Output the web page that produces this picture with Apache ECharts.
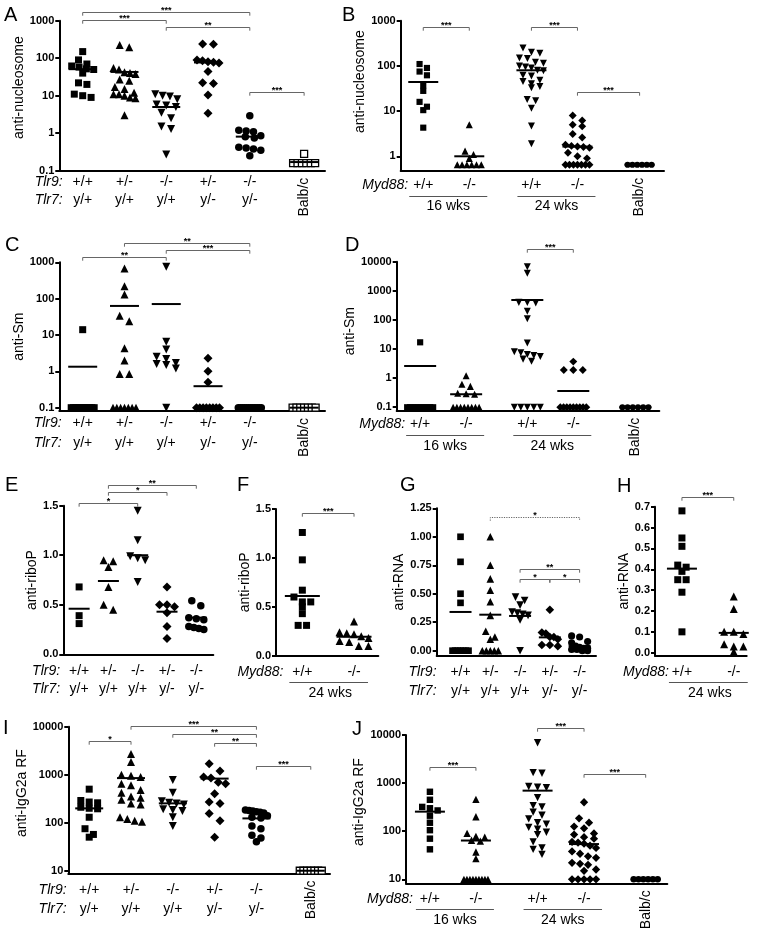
<!DOCTYPE html>
<html><head><meta charset="utf-8">
<script src="https://cdn.jsdelivr.net/npm/echarts@6/dist/echarts.min.js"></script>
<style>html,body{margin:0;padding:0;background:#fff}#c{width:762px;height:935px}</style>
</head><body><div id="c"></div>
<script>
const FONT = '"Liberation Sans", Arial, Helvetica, sans-serif';
const TLR9 = ['+/+','+/-','-/-','+/-','-/-'];
const TLR7 = ['y/+','y/+','y/+','y/-','y/-'];
const MYD88 = ['+/+','-/-','+/+','-/-'];
const MYD88_2 = ['+/+','-/-'];
const AGES = ['16 wks','24 wks'];
const AGE24 = ['24 wks'];
const BALB = 'Balb/c';

// ---- A: anti-nucleosome, Tlr genotypes ----
const A_vals = [
  [150, 90, 70, 62, 58, 52, 50, 40, 22, 20, 11, 10, 9],
  [225, 195, 55, 50, 42, 40, 38, 27, 25, 17, 15, 12, 11, 11, 10, 9, 8.5, 3],
  [11, 10, 9.5, 8, 5.8, 5.5, 5, 3.5, 2.5, 1.5, 1.3, 0.27],
  [240, 235, 90, 85, 80, 78, 75, 44, 22, 21, 10.4, 3.4],
  [2.9, 1.2, 1.15, 1.1, 0.85, 0.8, 0.75, 0.42, 0.4, 0.38, 0.35, 0.25],
  [0.28, 0.16, 0.16, 0.16, 0.16, 0.16, 0.16]
];
const A_med = [51, 43, 5, 77, 0.81, 0.17];
const A_sig = [[0,4,1700,'***'],[0,2,1060,'***'],[2,4,690,'**'],[4,5,12.8,'***']];
const A_ticks = [0.1, 1, 10, 100, 1000];

// ---- B: anti-nucleosome, Myd88 ----
const B_vals = [
  [110, 90, 75, 62, 37, 28, 16, 12.5, 10.5, 4.3],
  [5, 1.3, 1.1, 0.9, 0.65, 0.65, 0.65, 0.65, 0.65, 0.65],
  [250, 200, 190, 150, 145, 120, 115, 100, 95, 90, 80, 78, 62, 60, 48, 45, 40, 35, 33, 18, 17, 11.5, 4.7, 1.9],
  [8, 6.2, 5, 4.6, 3.1, 2.6, 1.8, 1.7, 1.65, 1.6, 1.55, 1.2, 1.0, 0.9, 0.65, 0.65, 0.65, 0.65, 0.65, 0.65, 0.65],
  [0.65, 0.65, 0.65, 0.65, 0.65, 0.65]
];
const B_med = [44, 1.0, 80, 1.64, 0.65];
const B_sig = [[0,1,735,'***'],[2,3,735,'***'],[3,4,26.4,'***']];
const B_ticks = [1, 10, 100, 1000];

// ---- C: anti-Sm, Tlr ----
const C_vals = [
  [14, 0.1, 0.1, 0.1, 0.1, 0.1, 0.1, 0.1, 0.1, 0.1, 0.1, 0.1],
  [680, 220, 130, 34, 24, 4.3, 2.0, 0.85, 0.85, 0.1, 0.1, 0.1, 0.1, 0.1, 0.1, 0.1],
  [760, 6.5, 4, 2.5, 2.2, 1.7, 1.6, 1.5, 1.2, 0.1],
  [2.3, 1.0, 0.5, 0.1, 0.1, 0.1, 0.1, 0.1, 0.1, 0.1, 0.1],
  [0.1, 0.1, 0.1, 0.1, 0.1, 0.1, 0.1, 0.1, 0.1, 0.1, 0.1, 0.1],
  [0.1, 0.1, 0.1, 0.1, 0.1, 0.1, 0.1]
];
const C_med = [1.34, 63, 71, 0.39, 0.1, 0.1];
const C_sig = [[1,4,3470,'**'],[2,4,2185,'***'],[0,2,1373,'**']];
const C_ticks = [0.1, 1, 10, 100, 1000];

// ---- D: anti-Sm, Myd88 ----
const D_vals = [
  [17, 0.1, 0.1, 0.1, 0.1, 0.1, 0.1, 0.1, 0.1, 0.1, 0.1],
  [1.2, 0.62, 0.52, 0.3, 0.29, 0.28, 0.1, 0.1, 0.1, 0.1, 0.1, 0.1, 0.1, 0.1],
  [6700, 4000, 400, 395, 385, 200, 110, 16, 8, 7.5, 6.5, 6, 5.5, 4.5, 3.8, 0.1, 0.1, 0.1, 0.1, 0.1],
  [3.7, 1.9, 1.9, 1.9, 0.1, 0.1, 0.1, 0.1, 0.1, 0.1, 0.1, 0.1, 0.1],
  [0.1, 0.1, 0.1, 0.1, 0.1, 0.1]
];
const D_med = [2.6, 0.28, 483, 0.36, 0.1];
const D_sig = [[2,3,26700,'***']];
const D_ticks = [0.1, 1, 10, 100, 1000, 10000];

// ---- E: anti-riboP, Tlr ----
const E_vals = [
  [0.68, 0.39, 0.31],
  [0.95, 0.94, 0.88, 0.68, 0.5, 0.45],
  [1.45, 1.15, 0.99, 0.97, 0.95, 0.73],
  [0.68, 0.5, 0.5, 0.48, 0.42, 0.28, 0.16],
  [0.54, 0.49, 0.37, 0.36, 0.35, 0.28, 0.27, 0.26, 0.25]
];
const E_med = [0.46, 0.74, 1.0, 0.43, 0.37];
const E_sig = [[1,4,1.709,'**'],[1,3,1.634,'*'],[0,2,1.524,'*']];
const E_ticks = [0, 0.5, 1, 1.5];

// ---- F: anti-riboP, Myd88 ----
const F_vals = [
  [1.26, 0.98, 0.67, 0.6, 0.55, 0.55, 0.5, 0.43, 0.31, 0.31],
  [0.35, 0.24, 0.23, 0.22, 0.2, 0.18, 0.15, 0.14, 0.1, 0.1]
];
const F_med = [0.61, 0.195];
const F_sig = [[0,1,1.46,'***']];
const F_ticks = [0, 0.5, 1, 1.5];

// ---- G: anti-RNA, Tlr ----
const G_vals = [
  [1.0, 0.78, 0.5, 0.42, 0, 0, 0, 0, 0, 0, 0],
  [1.0, 0.75, 0.63, 0.53, 0.43, 0.31, 0.17, 0.12, 0.1, 0, 0, 0, 0, 0],
  [0.47, 0.44, 0.4, 0.34, 0.33, 0.32, 0.31, 0.27, 0],
  [0.36, 0.16, 0.15, 0.12, 0.12, 0.1, 0.05, 0.04, 0.05],
  [0.13, 0.12, 0.08, 0.07, 0.04, 0.03, 0.02, 0.02, 0.01, 0.01, 0, 0]
];
const G_med = [0.34, 0.316, 0.305, 0.117, 0.04];
const G_sig = [[1,4,1.176,'*','dot'],[2,4,0.715,'**'],[2,3,0.627,'*'],[3,4,0.627,'*']];
const G_ticks = [0, 0.25, 0.5, 0.75, 1, 1.25];

// ---- H: anti-RNA, Myd88 ----
const H_vals = [
  [0.68, 0.55, 0.51, 0.42, 0.41, 0.39, 0.35, 0.35, 0.29, 0.1],
  [0.27, 0.21, 0.1, 0.1, 0.09, 0.04, 0.03, 0.03, 0.005]
];
const H_med = [0.403, 0.095];
const H_sig = [[0,1,0.745,'***']];
const H_ticks = [0, 0.1, 0.2, 0.3, 0.4, 0.5, 0.6, 0.7];

// ---- I: anti-IgG2a RF, Tlr ----
const I_vals = [
  [500, 290, 270, 260, 210, 200, 195, 130, 75, 57, 50],
  [2700, 1850, 1000, 950, 900, 650, 600, 480, 420, 350, 330, 300, 250, 240, 130, 120, 110, 105],
  [780, 420, 280, 260, 250, 240, 190, 185, 175, 130, 85],
  [1700, 1200, 900, 850, 700, 650, 400, 270, 250, 155, 110, 50],
  [185, 180, 175, 170, 165, 160, 140, 130, 125, 85, 75, 55, 48, 40],
  [10, 10, 10, 10, 10, 10, 10]
];
const I_med = [199, 850, 253, 830, 123, 10];
const I_sig = [[0,1,5040,'*'],[1,4,10350,'***'],[2,4,7050,'**'],[3,4,4640,'**'],[4,5,1520,'***']];
const I_ticks = [10, 100, 1000, 10000];

// ---- J: anti-IgG2a RF, Myd88 ----
const J_vals = [
  [660, 450, 320, 300, 270, 210, 150, 105, 70, 42],
  [460, 200, 90, 78, 75, 65, 62, 37, 27, 10, 10, 10, 10, 10, 10, 10, 10, 10],
  [6900, 1650, 1600, 850, 820, 800, 500, 340, 320, 250, 215, 180, 150, 140, 120, 110, 95, 85, 60, 45, 42, 33],
  [400, 185, 150, 125, 115, 90, 85, 75, 70, 60, 58, 55, 50, 45, 38, 34, 30, 28, 22, 21, 20, 16, 15, 10, 10, 10, 10, 10],
  [10, 10, 10, 10, 10, 10]
];
const J_med = [255, 64, 697, 54, 10];
const J_sig = [[0,1,2130,'***'],[2,3,13800,'***'],[3,4,1545,'***']];
const J_ticks = [10, 100, 1000, 10000];

// ---------- layout (positions / styles) ----------
const TLR_SYMS = ['sq','tri','inv','dia','cir','osq'];
const MYD_SYMS = ['sq','tri','inv','dia','dot'];
const panels = [
  {id:'A', vals:A_vals, med:A_med, sig:A_sig, ticks:A_ticks, title:'anti-nucleosome', tshift:8, kind:'tlr', syms:TLR_SYMS, balb:true,
   grid:[59.3,20.7,265.7,150], xr:[-0.56,5.8], pos:[0,1,2,3,4,5.3], log:true, yr:[0.1,1000], gap:24, letter:[4,15], dy:[11,29.3], mx:-20, half:14, sc:1},
  {id:'B', vals:B_vals, med:B_med, sig:B_sig, ticks:B_ticks, title:'anti-nucleosome', tshift:14, kind:'myd', syms:MYD_SYMS, balb:true, geno:MYD88, ages:AGES,
   grid:[400.7,20.7,263.3,150], xr:[-0.49,5.23], pos:[0,1,2.35,3.35,4.7], log:true, yr:[0.48,1000], gap:26, letter:[342,15], dy:[14.3,25,35.3], mx:-15, ul:[-14,18], half:15, sc:0.88},
  {id:'C', vals:C_vals, med:C_med, sig:C_sig, ticks:C_ticks, title:'anti-Sm', kind:'tlr', syms:TLR_SYMS, balb:true,
   grid:[59.3,262.3,265.7,148.7], xr:[-0.56,5.8], pos:[0,1,2,3,4,5.3], log:true, yr:[0.081,1000], gap:24, letter:[5,245.5], dy:[12.3,31.7], mx:-21, half:14.5, sc:1},
  {id:'D', vals:D_vals, med:D_med, sig:D_sig, ticks:D_ticks, title:'anti-Sm', tshift:5, kind:'myd', syms:MYD_SYMS, balb:true, geno:MYD88, ages:AGES,
   grid:[396.7,261.7,262.6,149], xr:[-0.51,5.2], pos:[0,1,2.33,3.33,4.68], log:true, yr:[0.076,10000], gap:22, letter:[345,245], dy:[13.3,24.6,35.3], mx:-15, ul:[-14,18], half:16, sc:0.88},
  {id:'E', vals:E_vals, med:E_med, sig:E_sig, ticks:E_ticks, dec:1, title:'anti-riboP', kind:'tlr', syms:TLR_SYMS, balb:false,
   grid:[63.3,505.7,150,148.6], xr:[-0.54,4.58], pos:[0,1,2,3,4], log:false, yr:[0,1.5], gap:24.6, letter:[5,485], dy:[16.7,34.7], mx:-19, half:10.5, sc:1},
  {id:'F', vals:F_vals, med:F_med, sig:F_sig, ticks:F_ticks, dec:1, title:'anti-riboP', kind:'myd', syms:MYD_SYMS, balb:false, geno:MYD88_2, ages:AGE24,
   grid:[276,509,102.3,146.7], xr:[-0.51,1.47], pos:[0,1], log:false, yr:[0,1.5], gap:22, letter:[237,485], dy:[16,26.6,37.6], mx:-19, ul:[-13,14], half:17.5, sc:1},
  {id:'G', vals:G_vals, med:G_med, sig:G_sig, ticks:G_ticks, dec:2, title:'anti-RNA', kind:'tlr', syms:TLR_SYMS, balb:false,
   grid:[436.7,508.3,159.3,147.4], xr:[-0.8,4.55], pos:[0,1,2,3,4], log:false, yr:[-0.044,1.25], gap:23, letter:[400,485.5], dy:[16,35.3], mx:-24, half:11, sc:0.95},
  {id:'H', vals:H_vals, med:H_med, sig:H_sig, ticks:H_ticks, dec:1, title:'anti-RNA', kind:'myd', syms:MYD_SYMS, balb:false, geno:MYD88_2, ages:AGE24,
   grid:[655,506.7,91.7,149], xr:[-0.52,1.25], pos:[0,1], log:false, yr:[-0.0144,0.7], gap:20, letter:[617,486.5], dy:[16,26.6,37], mx:-13, ul:[-13,14], half:15, sc:1},
  {id:'I', vals:I_vals, med:I_med, sig:I_sig, ticks:I_ticks, title:'anti-IgG2a RF', tshift:7, kind:'tlr', syms:TLR_SYMS, balb:true,
   grid:[68.3,726.7,261.7,146.7], xr:[-0.5,5.76], pos:[0,1,2,3,4,5.3], log:true, yr:[8.8,10000], gap:33, letter:[3,728], dy:[16.7,36], mx:-22.6, half:14, sc:1},
  {id:'J', vals:J_vals, med:J_med, sig:J_sig, ticks:J_ticks, title:'anti-IgG2a RF', tshift:7, kind:'myd', syms:MYD_SYMS, balb:true, geno:MYD88, ages:AGES,
   grid:[406,735,261.3,148.3], xr:[-0.52,5.16], pos:[0,1,2.34,3.35,4.69], log:true, yr:[8.26,10000], gap:27, letter:[352,729.5], dy:[15.7,26,36.7], mx:-17, ul:[-14,18], half:15, sc:0.92}
];

const SHAPES = {
  sq:{symbol:'rect', size:7}, tri:{symbol:'triangle', size:8}, inv:{symbol:'triangle', size:8, rotate:180},
  dia:{symbol:'diamond', size:9}, cir:{symbol:'circle', size:7.5}, osq:{symbol:'rect', size:7, open:true}, dot:{symbol:'circle', size:7}
};

function txt(x, y, text, opts) {
  opts = opts || {};
  const font = (opts.italic ? 'italic ' : '') + (opts.bold ? 'bold ' : '') + (opts.size || 14) + 'px ' + FONT;
  const al = opts.align || 'center', va = opts.va || 'middle';
  return {type:'text', x:x, y:y, rotation:opts.rotation || 0,
    style:{text:text, fill:'#000', font:font, align:al, verticalAlign:va, textAlign:al, textVerticalAlign:va}};
}

const option = {animation:false, backgroundColor:'#fff', grid:[], xAxis:[], yAxis:[], series:[], graphic:[]};
const meta = [];

panels.forEach((p, gi) => {
  option.grid.push({left:p.grid[0], top:p.grid[1], width:p.grid[2], height:p.grid[3], containLabel:false});
  option.xAxis.push({type:'value', gridIndex:gi, min:p.xr[0], max:p.xr[1],
    axisLine:{show:true, onZero:false, lineStyle:{color:'#000', width:2}},
    axisTick:{show:false}, axisLabel:{show:false}, splitLine:{show:false}});
  const ts = p.tshift || 0;
  option.yAxis.push({type:p.log ? 'log' : 'value', logBase:10, gridIndex:gi, min:p.yr[0], max:p.yr[1],
    name:p.title, nameLocation:'middle', nameGap:p.gap, nameRotate:90,
    nameTextStyle:{fontFamily:FONT, fontSize:14, color:'#000', padding:[0, 0, 0, 2 * ts]},
    axisLine:{show:true, onZero:false, lineStyle:{color:'#000', width:2}},
    axisTick:{show:true, length:4, customValues:p.ticks, lineStyle:{color:'#000', width:2}},
    axisLabel:{show:true, customValues:p.ticks, margin:5, color:'#000', fontFamily:FONT, fontSize:11, fontWeight:'bold',
      formatter: (v) => p.log ? (v < 1 ? (+v).toFixed(1) : String(Math.round(v))) : (+v).toFixed(p.dec)},
    splitLine:{show:false}});

  // points
  p.vals.forEach((vals, k) => {
    const sh = SHAPES[p.syms[k]];
    const si = option.series.length;
    option.series.push({type:'scatter', name:p.id + k, xAxisIndex:gi, yAxisIndex:gi, silent:true, z:2,
      symbol:sh.symbol, symbolSize:sh.size * p.sc, symbolRotate:sh.rotate || 0,
      itemStyle: sh.open ? {color:'#fff', borderColor:'#000', borderWidth:1.3, opacity:1} : {color:'#000', opacity:1},
      data: vals.map(v => [p.pos[k], v])});
    meta.push({si:si, x:p.pos[k], vals:vals, size:sh.size * p.sc, maxHalf:p.half - 3});
  });

  // median / mean lines
  option.series.push({type:'custom', xAxisIndex:gi, yAxisIndex:gi, clip:false, silent:true, z:6,
    data: p.med.map((v, k) => [p.pos[k], v]),
    renderItem: (params, api) => {
      const c = api.coord([api.value(0), api.value(1)]);
      return {type:'line', shape:{x1:c[0] - p.half, y1:c[1], x2:c[0] + p.half, y2:c[1]}, style:{stroke:'#000', lineWidth:2}};
    }});

  // significance brackets
  option.series.push({type:'custom', xAxisIndex:gi, yAxisIndex:gi, clip:false, silent:true, z:6,
    data: p.sig.map(s => [p.pos[s[0]], s[2]]),
    renderItem: (params, api) => {
      const s = p.sig[params.dataIndex];
      const a = api.coord([p.pos[s[0]], s[2]]), b = api.coord([p.pos[s[1]], s[2]]);
      const y = Math.round(a[1]) + 0.5;
      return {type:'group', children:[
        {type:'polyline', shape:{points:[[a[0], y + 3.2], [a[0], y], [b[0], y], [b[0], y + 3.2]]},
         style:{stroke:'#666', lineWidth:1, fill:'none', lineDash: s[4] === 'dot' ? [1.2, 1.2] : null}},
        txt((a[0] + b[0]) / 2, y + 2.5, s[3], {size:9, bold:true, va:'bottom'})
      ]};
    }});

  // labels under the axis
  const specs = [];
  const c = p.pos;
  if (p.kind === 'tlr') {
    specs.push({t:'text', x:c[0], dx:p.mx, dy:p.dy[0], text:'Tlr9:', italic:true, align:'right'});
    specs.push({t:'text', x:c[0], dx:p.mx, dy:p.dy[1], text:'Tlr7:', italic:true, align:'right'});
    TLR9.forEach((g, i) => {
      specs.push({t:'text', x:c[i], dy:p.dy[0], text:g});
      specs.push({t:'text', x:c[i], dy:p.dy[1], text:TLR7[i]});
    });
  } else {
    specs.push({t:'text', x:c[0], dx:p.mx, dy:p.dy[0], text:'Myd88:', italic:true, align:'right'});
    p.geno.forEach((g, i) => specs.push({t:'text', x:c[i], dy:p.dy[0], text:g}));
    p.ages.forEach((a, k) => {
      specs.push({t:'line', x:c[2 * k], x2:c[2 * k + 1], dy:p.dy[1]});
      specs.push({t:'text', x:(c[2 * k] + c[2 * k + 1]) / 2, dx:2, dy:p.dy[2], text:a});
    });
  }
  if (p.balb) specs.push({t:'rot', x:c[c.length - 1], dy:7, text:BALB});
  option.series.push({type:'custom', xAxisIndex:gi, yAxisIndex:gi, clip:false, silent:true, z:6,
    data: specs.map(s => [s.x, p.yr[1]]),
    renderItem: (params, api) => {
      const s = specs[params.dataIndex];
      const cs = params.coordSys;
      const bottom = cs.y + cs.height;
      const px = api.coord([s.x, p.yr[1]])[0] + (s.dx || 0);
      if (s.t === 'line') {
        const px2 = api.coord([s.x2, p.yr[1]])[0];
        const yy = Math.round(bottom + s.dy) + 0.5;
        return {type:'line', shape:{x1:px + p.ul[0], y1:yy, x2:px2 + p.ul[1], y2:yy}, style:{stroke:'#555', lineWidth:1}};
      }
      if (s.t === 'rot') return txt(px, bottom + s.dy, s.text, {align:'right', rotation:Math.PI / 2});
      return txt(px, bottom + s.dy, s.text, {italic:s.italic, align:s.align || 'center'});
    }});

  option.graphic.push(txt(p.letter[0], p.letter[1], p.id, {size:20, align:'left'}));
});

// column scatter layout: points that would overlap are spread sideways
function swarm(pys, size, maxHalf) {
  const order = pys.map((y, i) => i).sort((a, b) => pys[a] - pys[b]);
  const rows = [];
  order.forEach(i => {
    const r = rows[rows.length - 1];
    if (r && pys[i] - r.y0 < size * 0.85) r.items.push(i); else rows.push({y0:pys[i], items:[i]});
  });
  const off = pys.map(() => 0);
  rows.forEach(r => {
    const k = r.items.length;
    if (k < 2) return;
    const s = Math.min(size * 1.2, 2 * maxHalf / (k - 1));
    r.items.forEach((i, j) => { off[i] = (j - (k - 1) / 2) * s; });
  });
  return off;
}

const chart = echarts.init(document.getElementById('c'), null, {renderer:'canvas'});
chart.setOption(option);
meta.forEach(m => {
  const pix = m.vals.map(v => chart.convertToPixel({seriesIndex:m.si}, [m.x, v]));
  const offs = swarm(pix.map(q => q[1]), m.size, m.maxHalf);
  option.series[m.si].data = m.vals.map((v, i) => [chart.convertFromPixel({seriesIndex:m.si}, [pix[i][0] + offs[i], pix[i][1]])[0], v]);
});
chart.setOption(option);
</script></body></html>
